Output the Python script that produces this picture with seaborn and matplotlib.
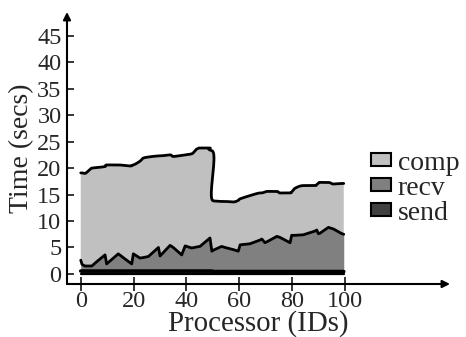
import numpy as np
import pandas as pd
import matplotlib
matplotlib.use("Agg")
import matplotlib.pyplot as plt
import seaborn as sns
from matplotlib.patches import Patch

# ---- data ----
processor = [0.0, 0.5, 1.6, 4.2, 6.0, 9.2, 9.8, 14.2, 18.7, 19.3, 19.9, 22.4, 23.7,
             25.6, 29.4, 30.0, 33.8, 35.0, 38.2, 39.5, 42.0, 43.9, 45.1, 48.9, 49.6,
             50.2, 53.3, 54.6, 57.7, 59.6, 60.3, 64.0, 67.8, 68.5, 69.7, 70.9, 74.2,
             75.4, 79.2, 79.8, 81.1, 84.2, 88.6, 89.3, 89.9, 90.5, 93.7, 95.6, 98.8, 99.5]
send = [0.55] * 25 + [0.45] * 25
recv = [2.05, 1.25, 0.95, 0.95, 1.75, 3.05, 1.35, 3.25, 1.55, 1.35, 3.25, 2.45, 2.55,
        2.75, 4.45, 2.85, 4.85, 4.45, 3.05, 4.75, 4.35, 4.55, 4.65, 6.25, 3.75,
        4.05, 4.75, 4.55, 4.15, 3.85, 5.05, 5.25, 5.95, 6.15, 5.45, 5.75, 6.65,
        6.45, 5.45, 6.85, 6.85, 6.95, 7.65, 7.85, 7.15, 7.25, 8.35, 8.05, 7.15, 7.05]
comp = [16.5, 17.3, 17.5, 18.5, 17.8, 16.7, 18.7, 16.8, 18.3, 18.6, 16.8, 18.3, 18.8,
        18.8, 17.3, 18.9, 17.1, 17.2, 18.8, 17.2, 17.8, 18.5, 18.6, 17.0, 19.0,
        9.3, 8.5, 8.7, 9.0, 9.6, 8.7, 9.1, 8.9, 8.7, 9.6, 9.4, 8.5,
        8.4, 9.4, 8.2, 8.9, 9.3, 8.6, 8.6, 9.5, 9.6, 8.5, 8.5, 9.5, 9.6]
series = ["comp", "recv", "send"]
series_colors = {"comp": "#c0c0c0", "recv": "#808080", "send": "#404040"}
x_ticks = [0, 20, 40, 60, 80, 100]
y_ticks = [0, 5, 10, 15, 20, 25, 30, 35, 40, 45]
x_label = "Processor (IDs)"
y_label = "Time (secs)"

df = pd.DataFrame({"processor": processor, "send": send, "recv": recv, "comp": comp})
df["send_top"] = df["send"]
df["recv_top"] = df["send_top"] + df["recv"]
df["comp_top"] = df["recv_top"] + df["comp"]

sns.set_style("white")
plt.rcParams["font.family"] = ["Liberation Serif", "DejaVu Serif"]

fig = plt.figure(figsize=(4.66, 3.37), dpi=100)
ax = fig.add_axes([67 / 466, 53 / 337, 383 / 466, 272 / 337])
ax.set_xlim(-5.2, 139.7)
ax.set_ylim(-1.9, 49.5)


def smooth_curve(x, y, sx=2.643, sy=5.29, k=0.4, n=20):
    """Cubic Hermite smoothing of the outline in (approximate) pixel space."""
    P = np.column_stack([np.asarray(x, float) * sx, np.asarray(y, float) * sy])
    d = np.diff(P, axis=0)
    m = np.zeros_like(P)
    m[0] = d[0]
    m[-1] = d[-1]
    for i in range(1, len(P) - 1):
        dxl, dyl = d[i - 1]
        dxr, dyr = d[i]
        mx = (dxl + dxr) / 2.0
        if dyl * dyr > 0:
            my = 2.0 / (1.0 / dyl + 1.0 / dyr)
        else:
            my = 0.0
        mx = max(mx, k * max(abs(dyl), abs(dyr)))
        m[i] = (mx, my)
    t = np.linspace(0, 1, n)[:, None]
    h00 = 2 * t**3 - 3 * t**2 + 1
    h10 = t**3 - 2 * t**2 + t
    h01 = -2 * t**3 + 3 * t**2
    h11 = t**3 - t**2
    pts = []
    for i in range(len(P) - 1):
        seg = h00 * P[i] + h10 * m[i] + h01 * P[i + 1] + h11 * m[i + 1]
        pts.append(seg if i == 0 else seg[1:])
    pts = np.vstack(pts)
    return pts[:, 0] / sx, pts[:, 1] / sy


xs, ys = smooth_curve(df["processor"], df["comp_top"])

# stacked areas
ax.fill(np.concatenate([xs, df["processor"].values[::-1]]),
        np.concatenate([ys, df["recv_top"].values[::-1]]),
        color=series_colors["comp"], lw=0, zorder=1)
ax.fill_between(df["processor"], df["send_top"], df["recv_top"],
                color=series_colors["recv"], lw=0, zorder=1)
ax.fill_between(df["processor"], 0, df["send_top"],
                color=series_colors["send"], lw=0, zorder=1)

# outlines
ax.plot(xs, ys, color="black", lw=2.0, zorder=3, solid_capstyle="round")
sns.lineplot(data=df, x="processor", y="recv_top", color="black", lw=2.0,
             ax=ax, zorder=3, estimator=None, sort=False)
sns.lineplot(data=df, x="processor", y="send_top", color="black", lw=2.6,
             ax=ax, zorder=3, estimator=None, sort=False)
ax.plot([df["processor"].iloc[0], df["processor"].iloc[-1]], [0, 0],
        color="black", lw=1.6, zorder=3)

# axes styling
for sp in ax.spines.values():
    sp.set_visible(False)
ax.annotate("", xy=(1, 0), xytext=(0, 0), xycoords="axes fraction",
            arrowprops=dict(arrowstyle="-|>", lw=1.5, color="black",
                            mutation_scale=11, shrinkA=0, shrinkB=0))
ax.annotate("", xy=(0, 1), xytext=(0, 0), xycoords="axes fraction",
            arrowprops=dict(arrowstyle="-|>", lw=1.5, color="black",
                            mutation_scale=11, shrinkA=0, shrinkB=0))
ax.set_xticks(x_ticks)
ax.set_yticks(y_ticks)
ax.set_xticklabels([str(v) for v in x_ticks])
ax.set_yticklabels([str(v) for v in y_ticks])
ax.tick_params(axis="x", direction="inout", length=10, width=1.3, pad=0,
               labelsize=17.5, bottom=True)
ax.tick_params(axis="y", direction="in", length=5, width=1.3, pad=4,
               labelsize=17.5, left=True)
ax.set_xlabel(x_label, fontsize=20.8, labelpad=-1)
ax.set_ylabel(y_label, fontsize=20, labelpad=2)
ax.grid(False)

handles = [Patch(facecolor=series_colors[s], edgecolor="black", lw=1.5, label=s)
           for s in series]
fig.legend(handles=handles, loc="center left", bbox_to_anchor=(371 / 466, 1 - 188 / 337),
           frameon=False, fontsize=20, handlelength=0.72, handleheight=0.3,
           handletextpad=0.25, labelspacing=0.0, borderpad=0, borderaxespad=0)

fig.savefig("out.png", dpi=100)
